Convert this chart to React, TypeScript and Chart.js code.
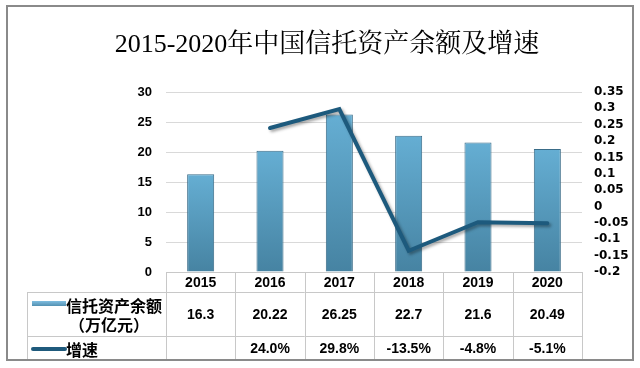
import React, { useEffect, useRef } from "react";
import { Chart, registerables } from "chart.js";

Chart.register(...registerables);

const TITLE = "2015-2020年中国信托资产余额及增速";
const categories = ["2015", "2016", "2017", "2018", "2019", "2020"];
const assetValues = [16.3, 20.22, 26.25, 22.7, 21.6, 20.49];
const assetLabels = ["16.3", "20.22", "26.25", "22.7", "21.6", "20.49"];
const growthValues: (number | null)[] = [null, 0.24, 0.298, -0.135, -0.048, -0.051];
const growthLabels = ["", "24.0%", "29.8%", "-13.5%", "-4.8%", "-5.1%"];
const leftTicks = [0, 5, 10, 15, 20, 25, 30];
const rightTicks = [-0.2, -0.15, -0.1, -0.05, 0, 0.05, 0.1, 0.15, 0.2, 0.25, 0.3, 0.35];
const seriesName1a = "信托资产余额";
const seriesName1b = "（万亿元）";
const seriesName2 = "增速";

const CJK = '"Noto Sans CJK SC", "Liberation Sans", sans-serif';

const tablePlugin = {
  id: "tablePlugin",
  beforeDraw(chart: any) {
    const ctx = chart.ctx;
    ctx.save();
    ctx.fillStyle = "#ffffff";
    ctx.fillRect(0, 0, chart.width, chart.height);
    ctx.restore();
  },
  beforeDatasetDraw(chart: any, args: any) {
    if (args.index === 1) {
      const ctx = chart.ctx;
      ctx.save();
      ctx.shadowColor = "rgba(0,0,0,0.35)";
      ctx.shadowOffsetX = 2;
      ctx.shadowOffsetY = 2;
      ctx.shadowBlur = 3;
    }
  },
  afterDatasetDraw(chart: any, args: any) {
    if (args.index === 1) {
      chart.ctx.restore();
    }
  },
  afterDraw(chart: any) {
    const ctx = chart.ctx;
    const area = chart.chartArea;
    const left = area.left;
    const right = area.right;
    const top = area.bottom;
    const n = categories.length;
    const colW = (right - left) / n;
    const row1 = 292;
    const row2 = 336;
    const bottom = 360;
    const labelLeft = 27;

    ctx.save();
    ctx.fillStyle = "#000";
    ctx.textAlign = "center";
    ctx.textBaseline = "middle";
    ctx.font = '26px "Liberation Serif", "Noto Serif CJK SC", "Noto Sans CJK SC", serif';
    ctx.fillText(TITLE, 327, 45);

    ctx.strokeStyle = "#c8c8c8";
    ctx.lineWidth = 1;
    ctx.beginPath();
    ctx.moveTo(left, top + 0.5);
    ctx.lineTo(right, top + 0.5);
    ctx.moveTo(labelLeft, row1 + 0.5);
    ctx.lineTo(right, row1 + 0.5);
    ctx.moveTo(labelLeft, row2 + 0.5);
    ctx.lineTo(right, row2 + 0.5);
    for (let i = 0; i <= n; i++) {
      const x = Math.round(left + colW * i) + 0.5;
      ctx.moveTo(x, top);
      ctx.lineTo(x, bottom);
    }
    ctx.moveTo(labelLeft + 0.5, row1);
    ctx.lineTo(labelLeft + 0.5, bottom);
    ctx.stroke();

    ctx.fillStyle = "#000";
    ctx.textAlign = "center";
    ctx.textBaseline = "middle";
    for (let i = 0; i < n; i++) {
      const cx = chart.scales.x.getPixelForValue(i);
      ctx.font = 'bold 14px "Liberation Sans", sans-serif';
      ctx.fillText(categories[i], cx, 283);
      ctx.fillText(assetLabels[i], cx, 315);
      if (growthLabels[i]) ctx.fillText(growthLabels[i], cx, 349);
    }

    const g1 = ctx.createLinearGradient(0, 301, 0, 307);
    g1.addColorStop(0, "#7fbde0");
    g1.addColorStop(1, "#4a88a8");
    ctx.fillStyle = g1;
    ctx.fillRect(32, 301, 34, 5);
    ctx.strokeStyle = "#1f5a7c";
    ctx.lineWidth = 4;
    ctx.lineCap = "round";
    ctx.beginPath();
    ctx.moveTo(33, 349);
    ctx.lineTo(65, 349);
    ctx.stroke();

    ctx.fillStyle = "#000";
    ctx.font = "bold 16px " + CJK;
    ctx.textAlign = "left";
    ctx.fillText(seriesName1a, 66, 306);
    ctx.fillText(seriesName2, 66, 350);
    ctx.textAlign = "center";
    ctx.fillText(seriesName1b, 109, 325);

    ctx.strokeStyle = "#8a8a8a";
    ctx.lineWidth = 2;
    ctx.strokeRect(7, 6, 626, 354);
    ctx.restore();
  },
};

export default function App() {
  const ref = useRef<HTMLCanvasElement | null>(null);
  useEffect(() => {
    document.body.style.margin = "0";
    const canvas = ref.current;
    if (!canvas) return;
    const chart = new Chart(canvas, {
      type: "bar",
      data: {
        labels: categories,
        datasets: [
          {
            type: "bar",
            label: seriesName1a,
            data: assetValues,
            yAxisID: "y",
            order: 1,
            barPercentage: 0.39,
            categoryPercentage: 1,
            borderWidth: 1,
            borderColor: "#3a6c88",
            backgroundColor: (c: any) => {
              const ch = c.chart;
              const ys = ch.scales && ch.scales.y;
              if (!ys || c.raw == null) return "#5aa0c4";
              const yTop = ys.getPixelForValue(c.raw);
              const yBot = ys.getPixelForValue(0);
              if (!isFinite(yTop) || !isFinite(yBot) || yTop === yBot) return "#5aa0c4";
              const g = ch.ctx.createLinearGradient(0, yTop, 0, yBot);
              g.addColorStop(0, "#65aed3");
              g.addColorStop(1, "#4683a2");
              return g;
            },
          } as any,
          {
            type: "line",
            label: seriesName2,
            data: growthValues,
            yAxisID: "y1",
            order: 0,
            borderColor: "#1d5a7d",
            borderWidth: 4,
            pointRadius: 0,
            tension: 0,
            borderJoinStyle: "miter",
            borderCapStyle: "round",
            spanGaps: false,
          } as any,
        ],
      },
      options: {
        animation: false,
        responsive: false,
        layout: { padding: { top: 92, left: 0, right: 0, bottom: 0 } },
        plugins: {
          legend: { display: false },
          tooltip: { enabled: false },
          title: { display: false },
        },
        scales: {
          x: {
            grid: { display: false },
            border: { display: false },
            ticks: { display: false },
            afterFit: (s: any) => {
              s.height = 96;
            },
          },
          y: {
            position: "left",
            min: 0,
            max: 30,
            afterBuildTicks: (s: any) => {
              s.ticks = leftTicks.map((v) => ({ value: v }));
            },
            ticks: {
              color: "#000",
              padding: 14,
              autoSkip: false,
              font: { family: '"Liberation Sans", sans-serif', size: 13, weight: "bold" },
            },
            grid: { color: "#d9d9d9", drawTicks: false },
            border: { display: false },
            afterFit: (s: any) => {
              s.width = 166;
            },
          },
          y1: {
            position: "right",
            min: -0.2,
            max: 0.35,
            afterBuildTicks: (s: any) => {
              s.ticks = rightTicks.map((v) => ({ value: v }));
            },
            ticks: {
              color: "#000",
              padding: 12,
              autoSkip: false,
              font: { family: '"DejaVu Sans", sans-serif', size: 12, weight: "bold", lineHeight: 1.1 },
              callback: (v: any) => String(Math.round(Number(v) * 100) / 100),
            },
            grid: { display: false, drawTicks: false },
            border: { display: false },
            afterFit: (s: any) => {
              s.width = 58;
            },
          },
        },
      } as any,
      plugins: [tablePlugin],
    });
    return () => chart.destroy();
  }, []);
  return (
    <div style={{ width: 640, height: 368 }}>
      <canvas ref={ref} width={640} height={368} style={{ display: "block", width: 640, height: 368 }} />
    </div>
  );
}
